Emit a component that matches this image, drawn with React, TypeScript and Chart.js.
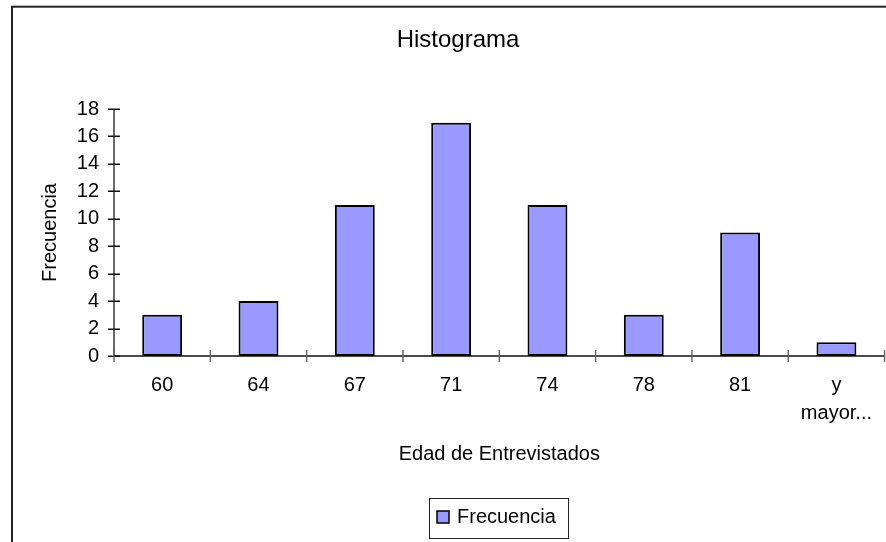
import { useEffect, useRef } from 'react';
import { Chart, registerables } from 'chart.js';

Chart.register(...registerables);

const chartTitle = 'Histograma';
const xAxisTitle = 'Edad de Entrevistados';
const yAxisTitle = 'Frecuencia';
const seriesName = 'Frecuencia';
const categories: (string | string[])[] = ['60', '64', '67', '71', '74', '78', '81', ['y', 'mayor...']];
const frequencies = [3, 4, 11, 17, 11, 3, 9, 1];
const yMin = 0;
const yMax = 18;
const yStep = 2;

const FONT = '"Liberation Sans", Arial, Helvetica, sans-serif';
const BAR_COLOR = '#9999FF';
const CANVAS_W = 887;
const CANVAS_H = 542;
const PLOT_LEFT = 114;
const PLOT_TOP = 109;
const PLOT_BOTTOM = 356;
const PAD_LEFT = 30;

const decorPlugin = {
  id: 'decor',
  beforeDraw(chart: any) {
    const ctx = chart.ctx;
    ctx.save();
    ctx.fillStyle = '#ffffff';
    ctx.fillRect(0, 0, chart.width, chart.height);
    ctx.strokeStyle = '#222222';
    ctx.lineWidth = 2;
    ctx.strokeRect(12, 6.7, 3000, 3000);
    ctx.restore();
  },
  afterDatasetsDraw(chart: any) {
    const ctx = chart.ctx;
    const x = chart.scales.x;
    const y = chart.scales.y;
    const x0 = x.left;
    const y0 = y.getPixelForValue(yMin);
    ctx.save();
    // y axis line
    ctx.strokeStyle = '#6a6a6a';
    ctx.lineWidth = 2;
    ctx.beginPath();
    ctx.moveTo(x0, y.getPixelForValue(yMax));
    ctx.lineTo(x0, y0);
    ctx.stroke();
    // y ticks
    ctx.strokeStyle = '#111111';
    ctx.lineWidth = 1.5;
    y.ticks.forEach((t: any) => {
      const p = Math.round(y.getPixelForValue(t.value)) + 0.25;
      ctx.beginPath();
      ctx.moveTo(x0 - 6, p);
      ctx.lineTo(x0 + 6, p);
      ctx.stroke();
    });
    // x axis line
    ctx.strokeStyle = '#111111';
    ctx.lineWidth = 1.5;
    ctx.beginPath();
    ctx.moveTo(x0, y0);
    ctx.lineTo(x.right, y0);
    ctx.stroke();
    // x ticks at category boundaries
    ctx.strokeStyle = '#666666';
    ctx.lineWidth = 1.5;
    for (let i = 0; i <= categories.length; i++) {
      const p = x.getPixelForValue(i - 0.5);
      ctx.beginPath();
      ctx.moveTo(p, y0 - 6);
      ctx.lineTo(p, y0 + 6);
      ctx.stroke();
    }
    ctx.restore();
  },
  afterDraw(chart: any) {
    const ctx = chart.ctx;
    ctx.save();
    // title
    ctx.fillStyle = '#000000';
    ctx.font = `24px ${FONT}`;
    ctx.textAlign = 'center';
    ctx.textBaseline = 'alphabetic';
    ctx.fillText(chartTitle, 458, 47);
    // legend box
    ctx.strokeStyle = '#222222';
    ctx.lineWidth = 1;
    ctx.strokeRect(429.5, 498.5, 139, 40);
    ctx.fillStyle = BAR_COLOR;
    ctx.fillRect(437, 511, 12, 12);
    ctx.strokeStyle = '#000000';
    ctx.lineWidth = 1.5;
    ctx.strokeRect(437, 511, 12, 12);
    ctx.fillStyle = '#000000';
    ctx.font = `20px ${FONT}`;
    ctx.textAlign = 'left';
    ctx.fillText(chart.data.datasets[0].label, 457, 523);
    ctx.restore();
  },
};

export default function App() {
  const ref = useRef<HTMLCanvasElement | null>(null);

  useEffect(() => {
    if (!ref.current) return;
    Chart.defaults.font.family = FONT;
    const chart = new Chart(ref.current, {
      type: 'bar',
      data: {
        labels: categories as any,
        datasets: [
          {
            label: seriesName,
            data: frequencies,
            backgroundColor: BAR_COLOR,
            borderColor: '#000000',
            borderWidth: 2,
            borderSkipped: false,
            barPercentage: 0.414,
            categoryPercentage: 1,
          },
        ],
      },
      options: {
        animation: false,
        responsive: false,
        layout: { padding: { top: PLOT_TOP, left: PAD_LEFT, right: 0, bottom: 0 } },
        plugins: {
          legend: { display: false },
          title: { display: false },
          tooltip: { enabled: false },
        },
        scales: {
          x: {
            type: 'category',
            offset: true,
            grid: { display: false, drawTicks: false },
            border: { display: false },
            ticks: {
              padding: 15,
              color: '#000000',
              font: { size: 20, lineHeight: 1.4 },
              maxRotation: 0,
              autoSkip: false,
            },
            title: {
              display: true,
              text: xAxisTitle,
              color: '#000000',
              font: { size: 20 },
              padding: { top: 0, bottom: 76 },
            },
            afterFit: (s: any) => {
              s.height = CANVAS_H - PLOT_BOTTOM;
            },
          },
          y: {
            min: yMin,
            max: yMax,
            grid: { display: false, drawTicks: false },
            border: { display: false },
            ticks: { stepSize: yStep, padding: 15, color: '#000000', font: { size: 20 } },
            title: {
              display: true,
              text: yAxisTitle,
              color: '#000000',
              font: { size: 20 },
              padding: { top: 8, bottom: 0 },
            },
            afterFit: (s: any) => {
              s.width = PLOT_LEFT - PAD_LEFT;
            },
          },
        },
      } as any,
      plugins: [decorPlugin],
    });
    return () => chart.destroy();
  }, []);

  return (
    <div
      style={{
        position: 'fixed',
        left: 0,
        top: 0,
        width: 886,
        height: 542,
        overflow: 'hidden',
        background: '#ffffff',
      }}
    >
      <canvas
        ref={ref}
        width={CANVAS_W}
        height={CANVAS_H}
        style={{ width: CANVAS_W, height: CANVAS_H, display: 'block' }}
      />
    </div>
  );
}
